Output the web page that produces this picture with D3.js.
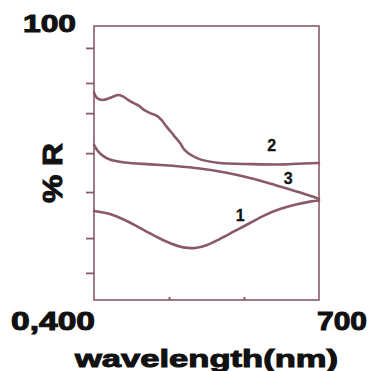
<!DOCTYPE html>
<html>
<head>
<meta charset="utf-8">
<script src="https://cdn.jsdelivr.net/npm/d3@7"></script>
<style>
  html, body { margin: 0; padding: 0; background: #fff; }
  svg { display: block; }
  .big { font-family: "Liberation Sans", Arial, sans-serif; font-weight: bold; fill: #111; stroke: #111; stroke-width: 1; }
  .num { font-family: "Liberation Sans", Arial, sans-serif; font-weight: bold; fill: #111; font-size: 16px; stroke: #111; stroke-width: 0.3; }
</style>
</head>
<body>
<svg id="chart" width="374" height="371"></svg>
<script>
// Reflectance spectra (%R against wavelength, nm)
const wl1 = [400, 421, 441, 461, 481, 501, 519, 535, 551, 568, 588, 608, 628, 648, 668, 688, 700];
const r1  = [32.5, 31.4, 29.2, 26.3, 23.4, 20.8, 19.2, 19.0, 20.1, 22.3, 25.2, 28.1, 31.0, 33.2, 34.8, 35.9, 36.3];

const wl2 = [400, 404, 412, 421, 432, 439, 448, 455, 460, 466, 475, 484, 490, 497, 506, 515, 521, 539, 565, 611, 655, 697, 700];
const r2  = [75.8, 73.7, 73.0, 73.7, 74.8, 74.2, 72.6, 71.6, 70.9, 69.5, 68.2, 67.2, 65.7, 63.2, 60.2, 57.2, 54.7, 51.6, 50.1, 49.6, 49.5, 50.0, 49.9];

const wl3 = [400, 405, 412, 421, 441, 475, 508, 541, 575, 608, 641, 675, 700];
const r3  = [56.6, 54.4, 52.6, 51.3, 50.2, 49.5, 48.9, 48.0, 46.5, 44.5, 42.0, 39.2, 36.9];

const seriesNames = ["1", "2", "3"];
// where each curve number sits (wavelength, %R)
const labelWl = [595, 637, 659];
const labelR  = [30.3, 56.0, 43.8];

const yTicks = [9.9, 22.6, 39.4, 53.6, 68.2, 79.2, 92.0];
const xTicks = [500, 600];
const xDomain = [400, 700];
const yDomain = [0, 100];

const ink = "#8a5b66";

const svg = d3.select("#chart");
const x = d3.scaleLinear().domain(xDomain).range([94, 319]);
const y = d3.scaleLinear().domain(yDomain).range([300, 26]);

// frame
svg.append("rect")
  .attr("x", x(400)).attr("y", y(100))
  .attr("width", x(700) - x(400)).attr("height", y(0) - y(100))
  .attr("fill", "none").attr("stroke", ink).attr("stroke-width", 1.6);

// left axis ticks (outward)
const ya = svg.append("g").attr("transform", `translate(${x(400)},0)`)
  .call(d3.axisLeft(y).tickValues(yTicks).tickSize(8).tickFormat(""));
ya.select(".domain").remove();
ya.selectAll("line").attr("stroke", ink).attr("stroke-width", 1.8);

// bottom axis ticks (inward)
const xa = svg.append("g").attr("transform", `translate(0,${y(0)})`)
  .call(d3.axisBottom(x).tickValues(xTicks).tickSize(-3).tickFormat(""));
xa.select(".domain").remove();
xa.selectAll("line").attr("stroke", ink).attr("stroke-width", 2);

// curves
const line = d3.line()
  .x(d => x(d[0])).y(d => y(d[1]))
  .curve(d3.curveCatmullRom.alpha(0.5));

[[wl1, r1], [wl2, r2], [wl3, r3]].forEach(([w, r]) => {
  svg.append("path")
    .datum(w.map((v, i) => [v, r[i]]))
    .attr("d", line)
    .attr("fill", "none")
    .attr("stroke", ink)
    .attr("stroke-width", 2.6)
    .attr("stroke-linejoin", "round")
    .attr("stroke-linecap", "round");
});

// curve numbers
seriesNames.forEach((n, i) => {
  svg.append("text").attr("class", "num")
    .attr("x", x(labelWl[i])).attr("y", y(labelR[i]))
    .attr("text-anchor", "middle").attr("dominant-baseline", "middle")
    .text(n);
});

// axis end labels
svg.append("text").attr("class", "big")
  .attr("x", 23).attr("y", 32).attr("font-size", 24)
  .attr("textLength", 53).attr("lengthAdjust", "spacingAndGlyphs")
  .text("100");
svg.append("text").attr("class", "big")
  .attr("x", 11).attr("y", 330).attr("font-size", 25)
  .attr("textLength", 84).attr("lengthAdjust", "spacingAndGlyphs")
  .text("0,400");
svg.append("text").attr("class", "big")
  .attr("x", 317).attr("y", 330).attr("font-size", 25)
  .attr("textLength", 50).attr("lengthAdjust", "spacingAndGlyphs")
  .text("700");

// axis titles
svg.append("text").attr("class", "big")
  .attr("transform", "translate(62,203) rotate(-90)")
  .attr("font-size", 27)
  .attr("textLength", 60).attr("lengthAdjust", "spacingAndGlyphs")
  .text("% R");
svg.append("text").attr("class", "big")
  .attr("x", 75).attr("y", 367).attr("font-size", 24)
  .attr("textLength", 263).attr("lengthAdjust", "spacingAndGlyphs")
  .text("wavelength(nm)");
</script>
</body>
</html>
